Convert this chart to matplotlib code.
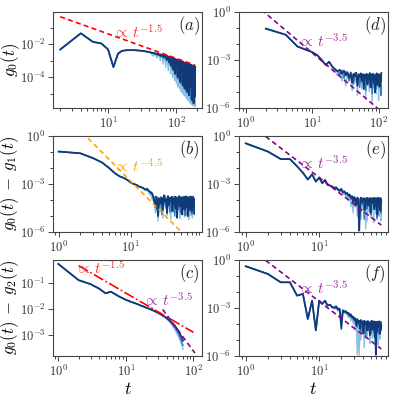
import numpy as np
import matplotlib
matplotlib.use("Agg")
import matplotlib.pyplot as plt
from matplotlib.ticker import LogLocator, NullFormatter, FixedLocator, FuncFormatter

plt.rcParams['mathtext.fontset'] = 'cm'
plt.rcParams['font.family'] = 'serif'
plt.rcParams['font.serif'] = ['DejaVu Serif']

# ---------------- data (log10 values) ----------------
# (a) and (d): even times
t_a = list(range(2, 189, 2))
a_head = [-2.31, -1.32, -1.84, -1.94, -2.30, -3.38, -2.56, -2.39, -2.36, -2.35,
          -2.34, -2.35, -2.36, -2.37, -2.38, -2.40, -2.41, -2.43, -2.45, -2.46]
a_dark = [-2.48, -2.52, -2.50, -2.56, -2.53, -2.62, -2.56, -2.64, -2.60, -2.72,
          -2.62, -2.68, -2.80, -2.66, -2.72, -2.95, -2.70, -2.76, -3.10, -2.74,
          -2.80, -3.30, -2.82, -2.86, -3.55, -2.85, -2.92, -3.80, -2.90, -3.00,
          -2.93, -4.00, -2.96, -3.05, -3.40, -2.98, -4.30, -3.02, -3.12, -3.60,
          -3.04, -4.50, -3.07, -3.25, -3.10, -4.70, -3.12, -3.45, -3.14, -3.35,
          -4.90, -3.16, -3.22, -3.80, -3.18, -5.10, -3.20, -3.40, -3.22, -4.60,
          -3.24, -3.55, -3.26, -5.40, -3.28, -3.45, -4.20, -3.30, -5.60, -3.32,
          -3.50, -3.34, -5.20, -3.36]
a_mid = [-2.50, -2.55, -2.49, -2.60, -2.58, -2.54, -2.68, -2.58, -2.74, -2.62,
         -2.64, -2.82, -2.66, -2.70, -2.68, -2.98, -2.72, -2.80, -2.74, -3.20,
         -2.78, -2.84, -3.45, -2.82, -2.88, -2.92, -3.70, -2.88, -2.96, -3.50,
         -2.94, -2.98, -4.10, -3.00, -3.02, -3.70, -3.04, -3.12, -4.40, -3.06,
         -3.10, -3.30, -3.08, -4.60, -3.12, -3.20, -3.90, -3.14, -4.80, -3.18,
         -3.28, -3.20, -4.20, -3.22, -5.00, -3.24, -3.38, -3.26, -4.50, -3.28,
         -5.30, -3.30, -3.40, -3.32, -4.80, -3.34, -3.60, -3.36, -5.50, -3.38,
         -3.42, -4.90, -3.40, -3.60]
a_light = [-2.52, -2.60, -2.72, -2.55, -2.64, -2.84, -2.60, -2.68, -3.00, -2.64,
           -2.74, -3.20, -2.70, -2.80, -3.40, -2.74, -2.84, -3.60, -2.78, -2.92,
           -3.80, -2.82, -2.90, -4.00, -2.86, -2.96, -4.20, -2.90, -3.02, -4.40,
           -2.95, -3.08, -4.60, -3.00, -3.12, -4.70, -3.04, -3.18, -4.90, -3.08,
           -3.22, -5.00, -3.12, -3.30, -5.10, -3.16, -3.38, -5.20, -3.20, -3.44,
           -5.30, -3.24, -3.50, -5.40, -3.28, -3.56, -5.50, -3.30, -3.62, -5.60,
           -3.32, -3.66, -5.65, -3.35, -3.70, -5.70, -3.38, -3.76, -5.75, -3.40,
           -3.80, -5.70, -3.42, -5.80]

t_d = list(range(2, 111, 2))
d_head = [-1.04, -1.42, -2.15, -2.35, -2.50, -2.70, -3.00, -3.30, -3.10, -3.40]
d_dark = [-3.55, -3.70, -3.60, -3.85, -3.65, -3.95, -3.75, -4.10, -3.80, -4.40,
          -3.85, -4.00, -3.78, -4.60, -3.90, -4.05, -3.82, -4.30, -3.88, -4.80,
          -3.92, -4.10, -3.85, -4.50, -3.95, -4.20, -3.80, -4.70, -3.90, -4.15,
          -3.85, -4.40, -4.00, -5.00, -3.90, -4.25, -3.82, -4.55, -3.95, -4.10,
          -3.88, -4.65, -3.92, -4.30, -3.80]
d_mid = [-3.60, -3.65, -3.90, -3.62, -4.10, -3.70, -3.85, -4.30, -3.75, -3.95,
         -4.50, -3.80, -3.90, -4.20, -3.85, -4.70, -3.92, -3.88, -4.40, -3.86,
         -4.05, -4.90, -3.90, -4.00, -4.35, -3.85, -4.60, -3.95, -3.90, -5.10,
         -3.88, -4.20, -3.95, -4.45, -3.90, -4.80, -3.92, -4.10, -3.86, -4.65,
         -3.94, -4.25, -3.90, -5.20, -3.88]
d_light = [-3.65, -3.95, -3.70, -4.30, -3.80, -4.60, -3.85, -4.20, -3.90, -4.90,
           -3.88, -4.40, -3.95, -5.20, -3.85, -4.50, -3.92, -4.80, -3.88, -4.30,
           -3.95, -5.40, -3.90, -4.60, -3.86, -4.95, -3.94, -4.40, -3.88, -5.60,
           -3.92, -4.70, -3.86, -4.35, -3.95, -5.10, -3.90, -4.55, -3.88, -5.50,
           -3.94, -4.80, -3.86, -4.40, -3.92]

# (b): t = 1..76
t_b = list(range(1, 77))
b_head = [-0.98, -1.09, -1.39, -1.66, -2.00, -2.32, -2.52, -2.62, -2.75, -2.90,
          -3.00, -3.05, -3.15, -3.20]
b_dark = [-3.25, -3.35, -3.30, -3.45, -3.50, -3.65, -3.90, -4.40, -3.80, -5.00,
          -3.90, -4.20, -3.85, -4.60, -3.70, -4.10, -3.95, -4.80, -3.75, -4.30,
          -3.88, -4.05, -3.80, -4.70, -3.92, -4.15, -3.78, -4.50, -3.85, -5.10,
          -3.90, -4.25, -3.76, -4.40, -3.95, -4.05, -3.82, -4.90, -3.88, -4.20,
          -3.80, -4.60, -3.92, -4.10, -3.76, -4.45, -3.86, -5.00, -3.90, -4.15,
          -3.80, -4.55, -3.94, -4.25, -3.78, -4.70, -3.88, -4.05, -3.82, -4.40,
          -3.92, -4.85]
b_mid = [-3.28, -3.32, -3.40, -3.42, -3.60, -3.55, -4.10, -3.75, -4.60, -3.85,
         -4.30, -3.80, -4.90, -3.88, -4.05, -3.75, -4.50, -3.90, -4.20, -3.82,
         -4.75, -3.86, -4.10, -3.78, -4.40, -3.92, -5.00, -3.84, -4.25, -3.80,
         -4.60, -3.90, -4.15, -3.76, -4.80, -3.88, -4.30, -3.82, -4.05, -3.92,
         -4.55, -3.78, -4.95, -3.86, -4.20, -3.80, -4.40, -3.92, -4.10, -3.84,
         -4.70, -3.78, -4.30, -3.90, -4.05, -3.82, -4.85, -3.88, -4.20, -3.76,
         -4.50, -3.92]
b_light = [-3.30, -3.40, -3.38, -3.55, -3.70, -4.00, -3.80, -4.80, -3.85, -5.30,
           -3.90, -4.50, -3.82, -5.10, -3.88, -4.30, -3.80, -4.95, -3.92, -4.40,
           -3.85, -5.20, -3.90, -4.60, -3.78, -4.85, -3.95, -4.35, -3.82, -5.00,
           -3.88, -4.55, -3.80, -5.15, -3.92, -4.40, -3.86, -4.80, -3.80, -4.30,
           -3.94, -5.05, -3.84, -4.50, -3.90, -4.90, -3.78, -4.35, -3.92, -5.20,
           -3.86, -4.60, -3.80, -4.95, -3.90, -4.40, -3.84, -5.10, -3.88, -4.55,
           -3.82, -4.75]

# (c), (e), (f): t = 1..70
t_c = list(range(1, 71))
c_head = [-0.29, -0.91, -1.06, -1.23, -1.41, -1.35, -1.45, -1.54, -1.60, -1.66,
          -1.70, -1.74, -1.77, -1.80, -1.83, -1.86, -1.89, -1.91, -1.94, -1.96,
          -1.98, -2.00, -2.02, -2.04, -2.06, -2.08, -2.10, -2.12, -2.14, -2.16,
          -2.18, -2.20, -2.22, -2.24, -2.26, -2.28, -2.30, -2.32, -2.34, -2.36]
c_dark = [-2.38, -2.40, -2.42, -2.44, -2.46, -2.49, -2.51, -2.53, -2.56, -2.58,
          -2.61, -2.63, -2.66, -2.68, -2.71, -2.74, -2.77, -2.80, -2.83, -2.86,
          -2.89, -2.92, -2.96, -2.99, -3.03, -3.06, -3.10, -3.14, -3.18, -3.22]
c_mid = [-2.39, -2.42, -2.43, -2.47, -2.48, -2.52, -2.54, -2.57, -2.60, -2.62,
         -2.66, -2.68, -2.72, -2.74, -2.78, -2.81, -2.85, -2.88, -2.92, -2.95,
         -3.00, -3.03, -3.08, -3.11, -3.17, -3.20, -3.26, -3.30, -3.35, -3.40]
c_light = [-2.41, -2.44, -2.46, -2.50, -2.52, -2.56, -2.58, -2.63, -2.65, -2.70,
           -2.72, -2.77, -2.79, -2.84, -2.86, -2.92, -2.94, -3.00, -3.02, -3.08,
           -3.10, -3.17, -3.19, -3.26, -3.28, -3.35, -3.37, -3.44, -3.48, -3.55]

t_e = list(range(1, 71))
e_head = [-0.47, -0.98, -1.45, -1.45, -1.90, -2.30, -2.72, -2.40, -2.85, -2.60,
          -2.95, -2.75, -3.05, -3.10]
e_dark = [-3.15, -3.25, -3.20, -3.35, -3.40, -3.30, -3.50, -3.45, -3.60, -3.55,
          -3.70, -3.65, -3.85, -3.75, -4.10, -3.80, -3.95, -4.30, -3.85, -4.05,
          -5.90, -4.50, -3.85, -4.15, -3.95, -4.00, -3.88, -4.60, -3.92, -4.10,
          -3.86, -4.35, -3.95, -4.05, -3.90, -4.80, -3.88, -4.20, -3.94, -4.10,
          -3.86, -4.55, -3.92, -4.05, -3.88, -4.40, -3.95, -4.90, -3.86, -4.15,
          -3.92, -4.30, -3.88, -4.65, -3.94, -4.10]
e_mid = [-3.18, -3.22, -3.28, -3.30, -3.45, -3.35, -3.55, -3.50, -3.65, -3.60,
         -3.80, -3.70, -3.95, -3.80, -4.20, -3.85, -4.40, -3.90, -4.05, -3.88,
         -4.70, -3.92, -4.10, -3.86, -4.30, -3.95, -5.20, -3.90, -4.15, -3.88,
         -4.55, -3.94, -4.05, -3.86, -4.40, -3.92, -4.90, -3.88, -4.20, -3.95,
         -4.10, -3.86, -4.60, -3.92, -4.30, -3.88, -5.10, -3.94, -4.15, -3.86,
         -4.50, -3.92, -4.05, -3.88, -4.80, -3.95]
e_light = [-3.20, -3.28, -3.25, -3.40, -3.50, -3.40, -3.65, -3.55, -3.80, -3.70,
           -4.00, -3.78, -4.40, -3.85, -4.80, -3.88, -4.30, -3.92, -5.00, -3.86,
           -4.50, -3.90, -5.20, -3.85, -4.60, -3.94, -4.90, -3.88, -5.80, -3.92,
           -5.30, -3.86, -4.70, -3.95, -4.45, -3.88, -5.10, -3.92, -4.60, -3.86,
           -5.40, -3.94, -4.50, -3.88, -4.85, -3.92, -5.20, -3.86, -4.60, -3.95,
           -5.00, -3.88, -4.40, -3.92, -5.30, -3.86]

t_f = list(range(1, 71))
f_head = [-0.41, -0.89, -1.41, -1.41, -2.24, -2.13, -3.69, -2.55, -4.40, -2.55,
          -2.75, -2.55, -2.86, -2.80]
f_dark = [-2.95, -3.00, -2.90, -3.10, -3.05, -4.30, -3.15, -3.25, -3.20, -3.35,
          -3.30, -3.50, -3.40, -3.60, -3.55, -3.75, -3.65, -4.10, -3.70, -3.90,
          -3.80, -4.30, -3.75, -3.95, -3.85, -4.60, -3.80, -4.05, -3.90, -3.85,
          -4.40, -3.82, -4.10, -3.92, -4.70, -3.86, -4.00, -3.80, -4.35, -3.90,
          -4.15, -3.84, -4.80, -3.88, -5.90, -3.92, -4.50, -3.86, -4.20, -3.90,
          -4.00, -3.84, -4.60, -3.92, -4.30, -4.10]
f_mid = [-2.98, -2.95, -3.05, -3.00, -3.15, -3.90, -3.20, -3.18, -3.30, -3.28,
         -3.45, -3.38, -3.55, -3.50, -3.70, -3.60, -3.90, -3.72, -4.20, -3.80,
         -4.00, -3.85, -4.50, -3.82, -4.10, -3.92, -4.30, -3.86, -4.80, -3.90,
         -4.05, -3.84, -4.40, -3.92, -4.15, -3.88, -4.60, -3.86, -4.00, -3.94,
         -4.50, -3.88, -4.20, -3.90, -4.90, -3.86, -4.10, -3.92, -4.35, -3.88,
         -4.65, -3.84, -4.05, -3.92, -4.40, -3.88]
f_light = [-3.00, -3.05, -3.00, -3.20, -3.10, -3.70, -3.25, -3.30, -3.35, -3.40,
           -3.60, -3.45, -3.80, -3.55, -4.00, -3.70, -4.40, -3.78, -5.90, -3.85,
           -5.95, -3.90, -5.00, -3.84, -4.50, -3.92, -5.50, -3.86, -4.60, -3.90,
           -4.80, -3.88, -4.35, -3.94, -5.20, -3.86, -4.55, -3.92, -4.90, -3.88,
           -4.40, -3.94, -5.10, -3.86, -5.95, -3.92, -4.45, -3.88, -5.30, -3.90,
           -4.60, -3.86, -4.95, -3.92, -4.50, -3.88]

# guide lines: (t_start, t_end, amplitude, exponent)
guide_a = (2, 188, 1.4, -1.5)
guide_b = (1, 80, 48.0, -4.5)
guide_c1 = (2, 100, 1.25, -1.5)
guide_c2 = (35, 105, 2400.0, -3.5)
guide_d = (1, 110, 9.0, -3.5)
guide_e = (1, 70, 8.0, -3.5)
guide_f = (1, 70, 8.0, -3.5)

colors = ['#8cc0e0', '#3478b8', '#113a78']
widths = [1.0, 1.0, 1.3]

# ---------------- figure ----------------
fig = plt.figure(figsize=(3.97, 3.97), dpi=100)
left_x, right_x, w = 0.134, 0.602, 0.375
bottoms, h = [0.727, 0.415, 0.103], 0.243
ax_a = fig.add_axes([left_x, bottoms[0], w, h])
ax_b = fig.add_axes([left_x, bottoms[1], w, h])
ax_c = fig.add_axes([left_x, bottoms[2], w, h])
ax_d = fig.add_axes([right_x, bottoms[0], w, h])
ax_e = fig.add_axes([right_x, bottoms[1], w, h])
ax_f = fig.add_axes([right_x, bottoms[2], w, h])

pow_fmt = FuncFormatter(lambda v, pos: r'$10^{%d}$' % int(round(np.log10(v))))


def draw_data(ax, t, head, tails):
    for tail, col, lw in zip(tails, colors, widths):
        ax.plot(t, 10 ** np.array(head + tail), color=col, lw=lw)


def draw_guide(ax, guide, color, ls):
    t0, t1, amp, expo = guide
    tt = np.geomspace(t0, t1, 50)
    ax.plot(tt, amp * tt ** expo, color=color, ls=ls, lw=1.2)


def style(ax, xlim, ylim, ymajor, yminor, label):
    ax.set_xscale('log')
    ax.set_yscale('log')
    ax.set_xlim(*xlim)
    ax.set_ylim(*ylim)
    ax.yaxis.set_major_locator(FixedLocator(ymajor))
    ax.yaxis.set_minor_locator(FixedLocator(yminor))
    ax.yaxis.set_major_formatter(pow_fmt)
    ax.yaxis.set_minor_formatter(NullFormatter())
    ax.xaxis.set_major_locator(LogLocator(base=10))
    ax.xaxis.set_minor_locator(LogLocator(base=10, subs=np.arange(2, 10)))
    ax.xaxis.set_major_formatter(pow_fmt)
    ax.xaxis.set_minor_formatter(NullFormatter())
    ax.tick_params(which='both', labelsize=9, colors='#444444', labelcolor='#333333',
                   width=0.7, pad=2)
    ax.tick_params(which='major', length=3.5)
    ax.tick_params(which='minor', length=2)
    for s in ax.spines.values():
        s.set_color('#444444')
        s.set_linewidth(0.8)
    ax.text(0.985, 0.975, label, transform=ax.transAxes, ha='right', va='top',
            fontsize=12, color='#222222')


draw_data(ax_a, t_a, a_head, [a_light, a_mid, a_dark])
draw_guide(ax_a, guide_a, 'red', (0, (3, 2)))
style(ax_a, (1.58, 237), (1.25e-6, 0.97), [1e-4, 1e-2], [1e-5, 1e-3, 1e-1], r'$(a)$')
ax_a.text(0.40, 0.79, r'$\propto\,t^{-1.5}$', transform=ax_a.transAxes, color='#ff3030',
          fontsize=11, ha='left', va='center')
ax_a.set_ylabel(r'$g_0(t)$', fontsize=12)
ax_a.yaxis.set_label_coords(-0.21, 0.5)

draw_data(ax_b, t_b, b_head, [b_light, b_mid, b_dark])
draw_guide(ax_b, guide_b, 'orange', (0, (3, 2)))
style(ax_b, (0.84, 98), (1e-6, 1), [1e-6, 1e-3, 1], [1e-5, 1e-4, 1e-2, 1e-1], r'$(b)$')
ax_b.text(0.40, 0.68, r'$\propto\,t^{-4.5}$', transform=ax_b.transAxes, color='orange',
          fontsize=11, ha='left', va='center')
ax_b.set_ylabel(r'$g_0(t)\;-\;g_1(t)$', fontsize=12)
ax_b.yaxis.set_label_coords(-0.215, 0.5)

draw_data(ax_c, t_c, c_head, [c_light, c_mid, c_dark])
draw_guide(ax_c, guide_c1, 'red', '-.')
draw_guide(ax_c, guide_c2, 'darkmagenta', (0, (3, 2)))
style(ax_c, (0.84, 134), (1.55e-4, 0.75), [1e-3, 1e-2, 1e-1], [], r'$(c)$')
ax_c.text(0.146, 0.91, r'$\propto\,t^{-1.5}$', transform=ax_c.transAxes, color='#ff3030',
          fontsize=11, ha='left', va='center')
ax_c.text(0.60, 0.58, r'$\propto\,t^{-3.5}$', transform=ax_c.transAxes, color='#a030a0',
          fontsize=11, ha='left', va='center')
ax_c.set_ylabel(r'$g_0(t)\;-\;g_2(t)$', fontsize=12)
ax_c.yaxis.set_label_coords(-0.215, 0.5)
ax_c.set_xlabel(r'$t$', fontsize=13, labelpad=1)

draw_data(ax_d, t_d, d_head, [d_light, d_mid, d_dark])
draw_guide(ax_d, guide_d, 'darkmagenta', (0, (3, 2)))
style(ax_d, (0.79, 138), (1e-6, 1), [1e-6, 1e-3, 1], [1e-5, 1e-4, 1e-2, 1e-1], r'$(d)$')
ax_d.text(0.395, 0.69, r'$\propto\,t^{-3.5}$', transform=ax_d.transAxes, color='#a030a0',
          fontsize=11, ha='left', va='center')

draw_data(ax_e, t_e, e_head, [e_light, e_mid, e_dark])
draw_guide(ax_e, guide_e, 'darkmagenta', (0, (3, 2)))
style(ax_e, (0.81, 86), (1e-6, 1), [1e-6, 1e-3, 1], [1e-5, 1e-4, 1e-2, 1e-1], r'$(e)$')
ax_e.text(0.395, 0.71, r'$\propto\,t^{-3.5}$', transform=ax_e.transAxes, color='#a030a0',
          fontsize=11, ha='left', va='center')

draw_data(ax_f, t_f, f_head, [f_light, f_mid, f_dark])
draw_guide(ax_f, guide_f, 'darkmagenta', (0, (3, 2)))
style(ax_f, (0.81, 86), (1e-6, 1), [1e-6, 1e-3, 1], [1e-5, 1e-4, 1e-2, 1e-1], r'$(f)$')
ax_f.text(0.395, 0.70, r'$\propto\,t^{-3.5}$', transform=ax_f.transAxes, color='#a030a0',
          fontsize=11, ha='left', va='center')
ax_f.set_xlabel(r'$t$', fontsize=13, labelpad=1)

fig.savefig('out.png', dpi=100)
